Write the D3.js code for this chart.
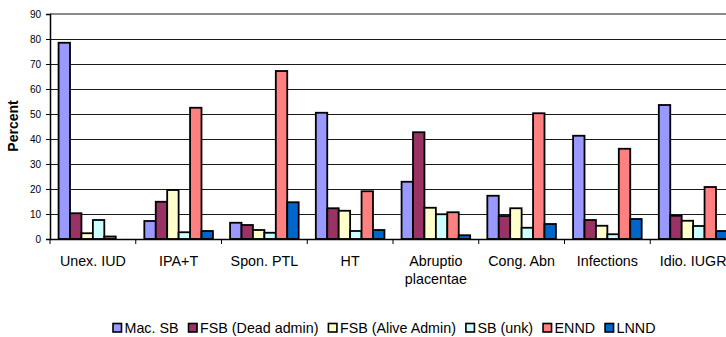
<!DOCTYPE html>
<html>
<head>
<meta charset="utf-8">
<script src="https://cdn.jsdelivr.net/npm/d3@7"></script>
<style>
  html, body { margin: 0; padding: 0; background: #fff; overflow: hidden; }
  svg { display: block; font-family: "Liberation Sans", Arial, sans-serif; }
</style>
</head>
<body>
<svg id="chart" width="726" height="337"></svg>
<script>
// Causes of perinatal death, percent by outcome group
const categories = ["Unex. IUD", "IPA+T", "Spon. PTL", "HT", "Abruptio placentae", "Cong. Abn", "Infections", "Idio. IUGR"];
const seriesNames = ["Mac. SB", "FSB (Dead admin)", "FSB (Alive Admin)", "SB (unk)", "ENND", "LNND"];
const macSB      = [78.5, 7.2, 6.5, 50.5, 22.9, 17.3, 41.3, 53.6];
const fsbDead    = [10.3, 14.9, 5.6, 12.3, 42.7, 9.2, 7.6, 9.3];
const fsbAlive   = [2.3, 19.6, 3.6, 11.3, 12.5, 12.3, 5.3, 7.3];
const sbUnk      = [7.6, 2.7, 2.5, 3.2, 9.9, 4.5, 1.9, 5.2];
const ennd       = [1.0, 52.5, 67.2, 19.1, 10.7, 50.3, 36.1, 20.8];
const lnnd       = [0.0, 3.2, 14.7, 3.6, 1.5, 6.0, 8.0, 3.2];
const yTicks     = [0, 10, 20, 30, 40, 50, 60, 70, 80, 90];
const colors     = ["#9999FF", "#993366", "#FFFFCC", "#CCFFFF", "#FF8080", "#0066CC"];

const seriesValues = [macSB, fsbDead, fsbAlive, sbUnk, ennd, lnnd];

const svg = d3.select("#chart");
const plotLeft = 50, plotTop = 14, plotBottom = 239;
const catStep = 85.75;
const plotRight = plotLeft + catStep * categories.length;

const x0 = d3.scaleBand().domain(categories).range([plotLeft, plotRight]).paddingInner(0).paddingOuter(0);
const x1 = d3.scaleBand().domain(seriesNames).range([0, x0.bandwidth()]).paddingInner(0).paddingOuter(0.75);
const y = d3.scaleLinear().domain([0, 90]).range([plotBottom, plotTop]);

// horizontal gridlines
svg.append("g")
  .selectAll("line")
  .data(yTicks.filter(t => t > 0 && t < 90))
  .join("line")
  .attr("x1", plotLeft).attr("x2", 726)
  .attr("y1", d => y(d)).attr("y2", d => y(d))
  .attr("stroke", "#1a1a1a").attr("stroke-width", 1)
  .attr("shape-rendering", "crispEdges");

// plot area top border
svg.append("line")
  .attr("x1", plotLeft).attr("x2", 726)
  .attr("y1", y(90)).attr("y2", y(90))
  .attr("stroke", "#8a8a8a").attr("stroke-width", 2);

// bars
const groups = svg.append("g")
  .selectAll("g")
  .data(categories)
  .join("g")
  .attr("transform", d => `translate(${x0(d)},0)`);

groups.selectAll("rect")
  .data((c, i) => seriesNames.map((s, k) => ({ s, k, v: seriesValues[k][i] })).filter(d => d.v > 0))
  .join("rect")
  .attr("x", d => x1(d.s))
  .attr("width", x1.bandwidth())
  .attr("y", d => y(d.v))
  .attr("height", d => y(0) - y(d.v))
  .attr("fill", d => colors[d.k])
  .attr("stroke", "#000")
  .attr("stroke-width", 1.8);

// y axis
const yAxis = d3.axisLeft(y).tickValues(yTicks).tickSize(4).tickPadding(5);
const yg = svg.append("g").attr("transform", `translate(${plotLeft},0)`).call(yAxis);
yg.select(".domain").attr("stroke", "#000").attr("stroke-width", 1.5);
yg.selectAll(".tick line").attr("stroke", "#000");
yg.selectAll(".tick text").attr("font-size", "10px").attr("fill", "#000")
  .attr("font-family", "'Liberation Sans', Arial, sans-serif");

// x axis
const xAxis = d3.axisBottom(x0).tickSize(0).tickFormat("");
const xg = svg.append("g").attr("transform", `translate(0,${plotBottom})`).call(xAxis);
xg.select(".domain").attr("stroke", "#000").attr("stroke-width", 1.5);
xg.selectAll(".tick").remove();

// category boundary ticks
svg.append("g")
  .selectAll("line")
  .data(d3.range(categories.length + 1))
  .join("line")
  .attr("x1", i => plotLeft + i * catStep).attr("x2", i => plotLeft + i * catStep)
  .attr("y1", plotBottom).attr("y2", plotBottom + 5)
  .attr("stroke", "#000").attr("stroke-width", 1);

// category labels (wrapped)
const labelLines = { "Abruptio placentae": ["Abruptio", "placentae"] };
svg.append("g")
  .selectAll("text")
  .data(categories)
  .join("text")
  .attr("x", d => x0(d) + x0.bandwidth() / 2)
  .attr("y", 266)
  .attr("text-anchor", "middle")
  .attr("font-size", "14.3px")
  .attr("fill", "#000")
  .each(function (d) {
    const lines = labelLines[d] || [d];
    d3.select(this).selectAll("tspan")
      .data(lines)
      .join("tspan")
      .attr("x", x0(d) + x0.bandwidth() / 2)
      .attr("dy", (l, i) => i === 0 ? 0 : 17.5)
      .text(l => l);
  });

// y axis title
svg.append("text")
  .attr("transform", "translate(18,126) rotate(-90)")
  .attr("text-anchor", "middle")
  .attr("font-size", "14px")
  .attr("font-weight", "bold")
  .attr("fill", "#000")
  .text("Percent");

// legend
const legend = svg.append("g");
let lx = 113;
const ly = 333;
seriesNames.forEach((name, k) => {
  legend.append("rect")
    .attr("x", lx).attr("y", ly - 9.5)
    .attr("width", 8.5).attr("height", 8.5)
    .attr("fill", colors[k])
    .attr("stroke", "#000").attr("stroke-width", 1.6);
  const t = legend.append("text")
    .attr("x", lx + 11.5).attr("y", ly)
    .attr("font-size", "14.3px")
    .attr("fill", "#000")
    .text(name);
  lx += 11.5 + t.node().getComputedTextLength() + 10;
});
</script>
</body>
</html>
